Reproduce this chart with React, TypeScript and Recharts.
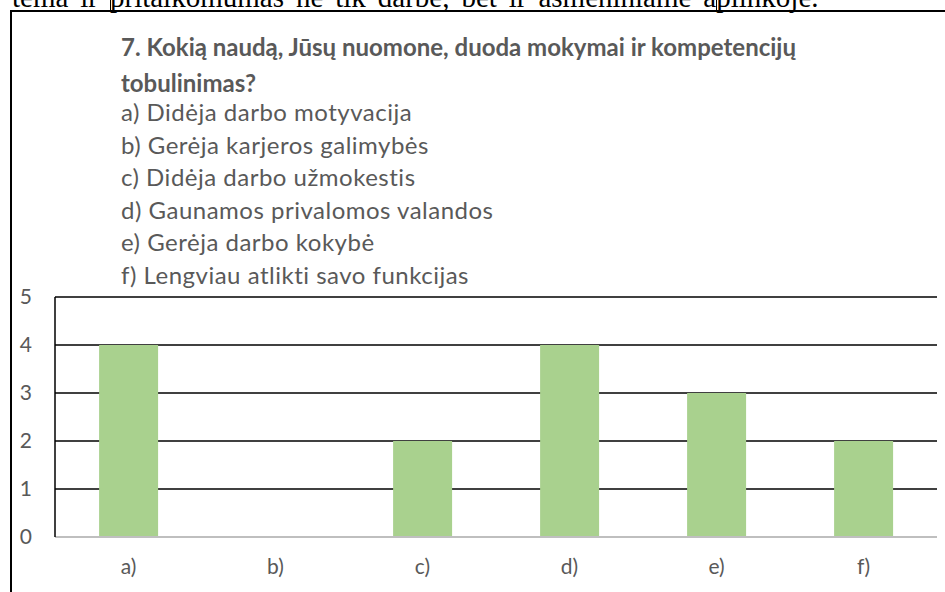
import React from 'react';
import { BarChart, Bar, XAxis, YAxis, CartesianGrid } from 'recharts';

const categories = ['a)', 'b)', 'c)', 'd)', 'e)', 'f)'];
const values = [4, 0, 2, 4, 3, 2];
const yTicks = [0, 1, 2, 3, 4, 5];
const titleLines = ['7. Kokią naudą, Jūsų nuomone, duoda mokymai ir kompetencijų', 'tobulinimas?'];
const optionLines = [
  'a) Didėja darbo motyvacija',
  'b) Gerėja karjeros galimybės',
  'c) Didėja darbo užmokestis',
  'd) Gaunamos privalomos valandos',
  'e) Gerėja darbo kokybė',
  'f) Lengviau atlikti savo funkcijas',
];
const topText = 'tema ir pritaikomumas ne tik darbe, bet ir asmeniniame aplinkoje.';

const data = categories.map((c, i) => ({ name: c, value: values[i] }));

const FONT = 'Lato, "Open Sans", sans-serif';
const GREY = '#595959';

export default function App() {
  return (
    <div style={{ position: 'absolute', left: 0, top: 0, width: 945, height: 592, overflow: 'hidden', background: '#fff' }}>
      <div style={{ position: 'absolute', left: 12, top: -17, fontFamily: '"Liberation Serif", serif', fontSize: 29, lineHeight: '29px', wordSpacing: 4.7, color: '#000', whiteSpace: 'nowrap' }}>
        {topText}
      </div>
      <div style={{ position: 'absolute', left: 110, top: 0, width: 1, height: 10, background: '#000' }} />
      <div style={{ position: 'absolute', left: 716, top: 0, width: 1, height: 10, background: '#000' }} />
      <div style={{ position: 'absolute', left: 10, top: 9.5, width: 960, height: 620, border: '2px solid #000', boxSizing: 'border-box' }} />
      <div style={{ position: 'absolute', left: 0, top: 0 }}>
        <BarChart width={945} height={592} data={data} margin={{ top: 297, right: 8, left: 15, bottom: 25 }} barCategoryGap="30%">
          <CartesianGrid vertical={false} stroke="#000" strokeWidth={1.5} />
          <XAxis
            dataKey="name"
            axisLine={{ stroke: '#BFBFBF', strokeWidth: 2 }}
            tickLine={false}
            tickMargin={16}
            height={30}
            tick={{ fill: GREY, fontSize: 21, fontFamily: FONT }}
            interval={0}
          />
          <YAxis
            domain={[0, 5]}
            ticks={yTicks}
            width={40}
            axisLine={{ stroke: '#000', strokeWidth: 1.5 }}
            tickLine={false}
            tickMargin={17}
            tick={{ fill: GREY, fontSize: 21, fontFamily: FONT }}
          />
          <YAxis
            yAxisId="right"
            orientation="right"
            domain={[0, 5]}
            width={0}
            axisLine={{ stroke: '#000', strokeWidth: 2 }}
            tickLine={false}
            tick={false}
          />
          <Bar dataKey="value" fill="#A9D18E" isAnimationActive={false} />
        </BarChart>
      </div>
      <div style={{ position: 'absolute', left: 121, top: 0, fontFamily: FONT, color: GREY, fontSize: 24, lineHeight: '24px' }}>
        {titleLines.map((t, i) => (
          <div key={i} style={{ fontWeight: 'bold', position: 'absolute', top: 35.4 + i * 36, whiteSpace: 'nowrap' }}>{t}</div>
        ))}
        {optionLines.map((t, i) => (
          <div key={'o' + i} style={{ position: 'absolute', top: 100 + i * 32.6, whiteSpace: 'nowrap', letterSpacing: 0.5 }}>{t}</div>
        ))}
      </div>
    </div>
  );
}
